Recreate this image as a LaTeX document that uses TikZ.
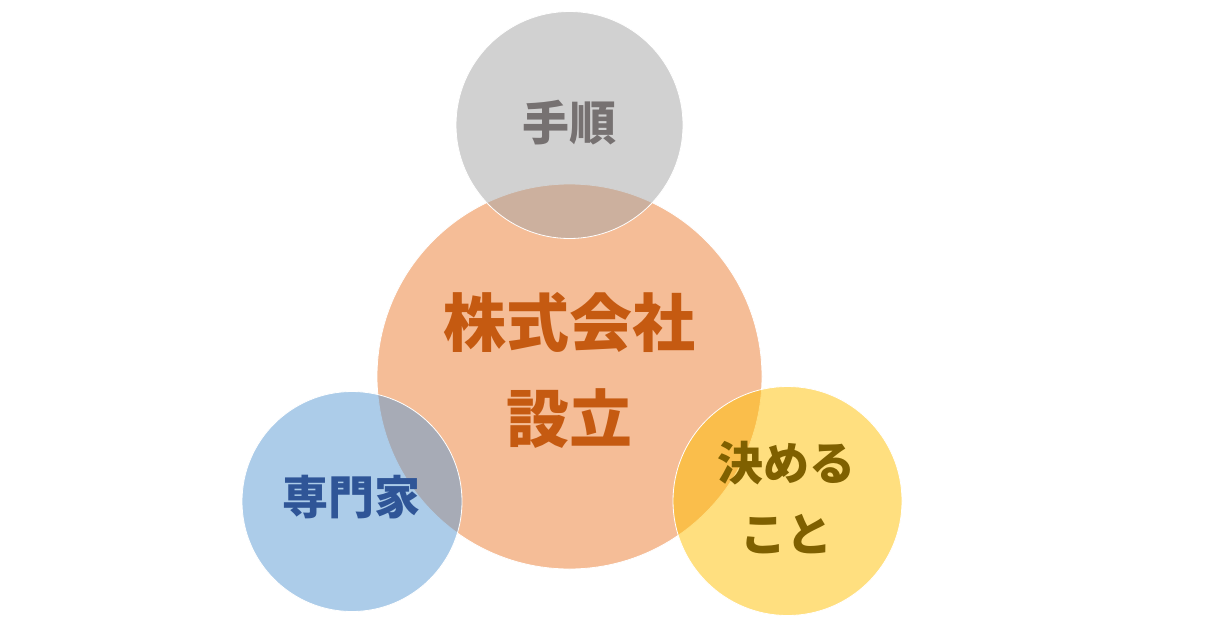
\documentclass[tikz,border=0pt]{standalone}
\usepackage{fontspec}
\newfontfamily\jp{Noto Sans CJK JP}
\definecolor{cOrange}{HTML}{ED7D31}
\definecolor{cGray}{HTML}{A5A5A5}
\definecolor{cBlue}{HTML}{5B9BD5}
\definecolor{cYellow}{HTML}{FFC000}
\definecolor{tOrange}{HTML}{C55A11}
\definecolor{tGray}{HTML}{767171}
\definecolor{tBlue}{HTML}{2F5597}
\definecolor{tOlive}{HTML}{7F6000}
\tikzset{
  bubble/.style={circle, draw=white, line width=0.8pt, fill opacity=0.5, inner sep=0pt},
  label/.style={font=\jp\bfseries, align=center, inner sep=0pt}
}
\begin{document}
\begin{tikzpicture}[x=1pt,y=-1pt]
\useasboundingbox (0,0) rectangle (1212,627);
\fill[white] (0,0) rectangle (1212,627);
\node[bubble, fill=cOrange, minimum size=385pt] (main) at (569.5,376.5) {};
\node[bubble, fill=cGray, minimum size=227pt] (top) at (569.5,125) {};
\node[bubble, fill=cBlue, minimum size=220pt] (left) at (352,501.5) {};
\node[bubble, fill=cYellow, minimum size=229pt] (right) at (787.5,501) {};
\node[label, text=tOrange, font=\jp\bfseries\fontsize{63pt}{96pt}\selectfont] (mainT) at (569,370) {株式会社\\設立};
\node[label, text=tGray, font=\jp\bfseries\fontsize{47pt}{60pt}\selectfont] (topT) at (569,123) {手順};
\node[label, text=tBlue, font=\jp\bfseries\fontsize{46pt}{60pt}\selectfont] (leftT) at (351,497) {専門家};
\node[label, text=tOlive, font=\jp\bfseries\fontsize{46pt}{71pt}\selectfont] (rightT) at (786,497.5) {決める\\こと};
\end{tikzpicture}
\end{document}
